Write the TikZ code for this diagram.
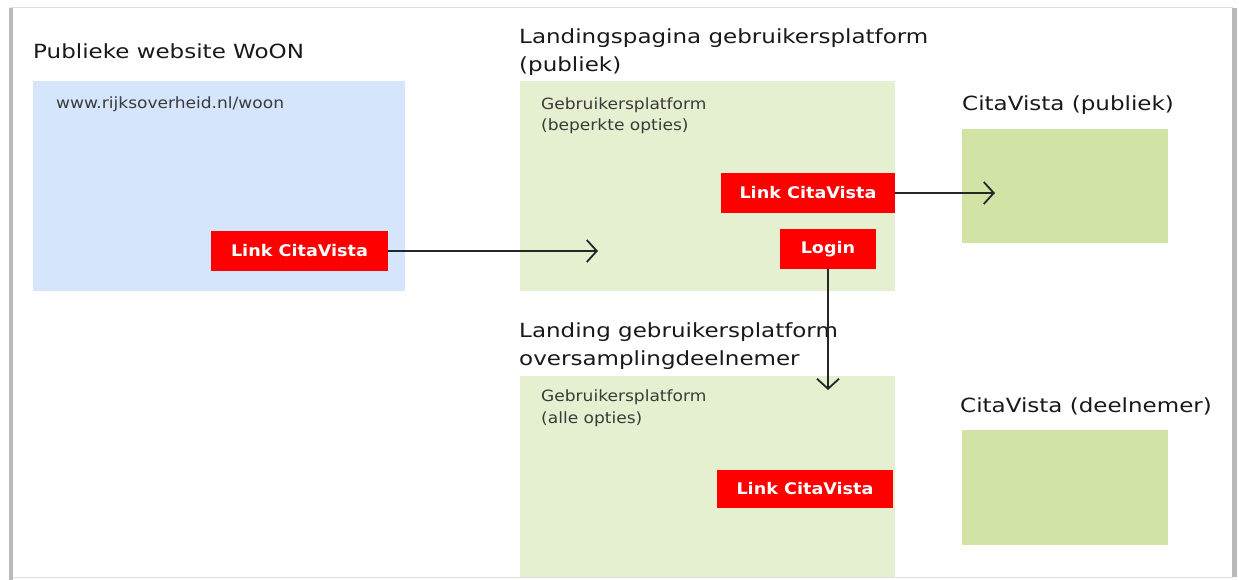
\documentclass[tikz,border=0pt]{standalone}
\usepackage{fontspec}
\setmainfont[FakeStretch=1.1]{DejaVu Sans}
\newfontfamily\kopfont[FakeStretch=1.18]{DejaVu Sans}
\usetikzlibrary{arrows.meta}
\definecolor{lichtblauw}{HTML}{D5E5FB}
\definecolor{lichtgroen}{HTML}{E5F0D0}
\definecolor{citagroen}{HTML}{D2E3A6}
\definecolor{knoprood}{HTML}{FF0000}
\definecolor{tekstgrijs}{HTML}{3A3A3A}
\tikzset{vlak/.style={anchor=north west,inner sep=0pt},
knop/.style={fill=knoprood,text=white,inner sep=0pt,font=\bfseries\fontsize{16}{18}\selectfont},
kop/.style={anchor=base west,align=left,inner sep=0pt,font=\kopfont\fontsize{19.5}{28}\selectfont,text=black!90},
klein/.style={anchor=base west,align=left,inner sep=0pt,font=\fontsize{15.5}{21.5}\selectfont,text=tekstgrijs},
pijl/.style={-{Straight Barb[length=10pt,width=22pt]},line width=1.8pt,black!85}}

\begin{document}
\begin{tikzpicture}[x=1pt,y=-1pt]
\useasboundingbox (0,0) rectangle (1239,580);
%frame
\draw[gray!25,line width=1pt] (10,7.5)--(1233,7.5);
\draw[gray!25,line width=1pt] (10,577)--(1233,577);
\fill[gray!55] (9,8) rectangle (13,580);
\fill[gray!55] (1232,8) rectangle (1237,577);
%vlakken
\node[vlak,fill=lichtblauw,minimum width=372pt,minimum height=210pt] (woon) at (33,81) {};
\node[vlak,fill=lichtgroen,minimum width=375pt,minimum height=210pt] (platform) at (520,81) {};
\node[vlak,fill=lichtgroen,minimum width=375pt,minimum height=201pt] (deelplatform) at (520,376) {};
\node[vlak,fill=citagroen,minimum width=206pt,minimum height=114pt] (citapubliek) at (962,129) {};
\node[vlak,fill=citagroen,minimum width=206pt,minimum height=115pt] (citadeel) at (962,430) {};
%koppen (base = laatste regel)
\node[kop] (kopwoon) at (33,59) {Publieke website WoON};
\node[kop] (koplanding) at (519,72) {Landingspagina gebruikersplatform\\(publiek)};
\node[kop] (kopcita) at (962,111) {CitaVista (publiek)};
\node[kop] (kopdeel) at (519,365) {Landing gebruikersplatform\\oversamplingdeelnemer};
\node[kop] (kopcitadeel) at (960,412) {CitaVista (deelnemer)};
%tekst in de vlakken
\node[klein] (url) at (56,109) {www.rijksoverheid.nl/woon};
\node[klein] (beperkt) at (541,131) {Gebruikersplatform\\(beperkte opties)};
\node[klein] (alle) at (541,423) {Gebruikersplatform\\(alle opties)};
%knoppen
\node[knop,minimum width=177pt,minimum height=40pt] (link1) at (299.5,251) {Link CitaVista};
\node[knop,minimum width=174pt,minimum height=40pt] (link2) at (808,193) {Link CitaVista};
\node[knop,minimum width=96pt,minimum height=40pt] (login) at (828,249) {Login};
\node[knop,minimum width=176pt,minimum height=38pt] (link3) at (805,489) {Link CitaVista};
%pijlen
\coordinate (eind1) at (598,251);
\coordinate (eind2) at (995,193);
\coordinate (eind3) at (828,390);
\draw[pijl] (link1.east)--(eind1);
\draw[pijl] (link2.east)--(eind2);
\draw[pijl] (login.south)--(eind3);
\end{tikzpicture}
\end{document}
